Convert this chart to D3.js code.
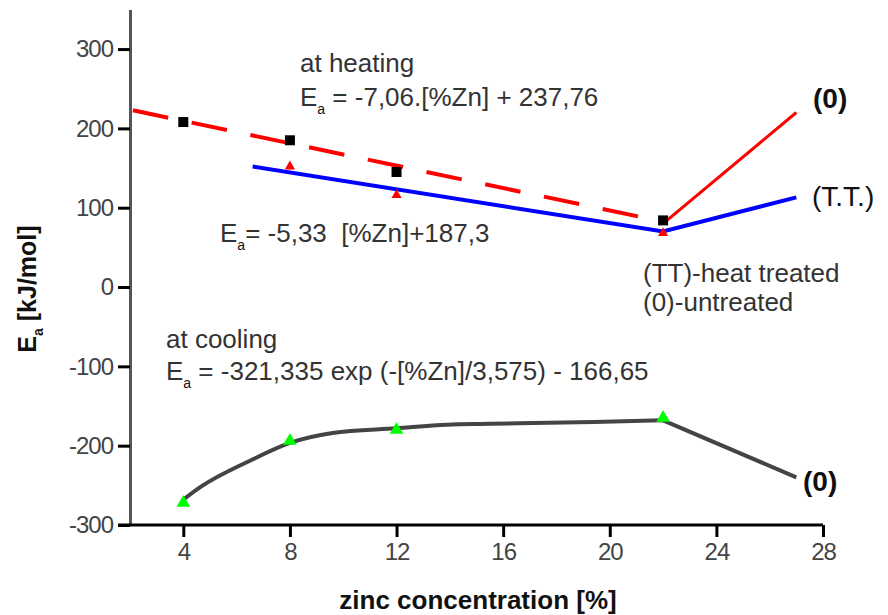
<!DOCTYPE html>
<html>
<head>
<meta charset="utf-8">
<script src="https://cdn.jsdelivr.net/npm/d3@7"></script>
<style>
  html, body { margin: 0; padding: 0; background: #fff; }
  svg { display: block; }
  text { font-family: "Liberation Sans", Arial, sans-serif; }
</style>
</head>
<body>
<svg id="chart" width="888" height="615"></svg>
<script>
// ---- data ----
const xTicks = [4, 8, 12, 16, 20, 24, 28];
const yTicks = [-300, -200, -100, 0, 100, 200, 300];

// heating, untreated (0): measured points (black squares)
const heatSquareX = [4, 8, 12, 22];
const heatSquareY = [208, 185, 145, 84];
// heating, heat treated (TT): measured points (red triangles)
const ttTriX = [8, 12, 22];
const ttTriY = [152, 116, 68];
// cooling: measured points (green triangles)
const coolTriX = [4, 8, 12, 22];
const coolTriY = [-272, -194, -180, -165];

// linear fit at heating (red dashed)
const heatFitX = [2, 22];
const heatFitY = [223.6, 82.4];
// untreated branch above 22 % (red solid)
const untreatedX = [22, 27];
const untreatedY = [80, 220];
// heat treated line (blue)
const ttLineX = [6.6, 22, 27];
const ttLineY = [152, 70, 113];
// cooling curve (gray)
const coolCurveX = [4, 4.65, 6.5, 8, 9.6, 12, 13.9, 15.5, 19.4, 22];
const coolCurveY = [-268, -252, -219, -196.5, -184, -178, -173.5, -172.5, -170, -168];
const coolTailX = [22, 27];
const coolTailY = [-168, -240];

// ---- drawing ----
const svg = d3.select("#chart");
const x = d3.scaleLinear().domain([2, 28]).range([130, 823]);
const y = d3.scaleLinear().domain([-300, 350]).range([525, 9.4]);

const zip = (xs, ys) => xs.map((v, i) => [v, ys[i]]);
const line = d3.line().x(d => x(d[0])).y(d => y(d[1]));
const curve = d3.line().x(d => x(d[0])).y(d => y(d[1])).curve(d3.curveMonotoneX);

// axes
const yAxis = d3.axisLeft(y).tickValues(yTicks).tickFormat(d => String(d))
  .tickSize(12).tickPadding(5).tickSizeOuter(0);
const gy = svg.append("g").attr("transform", `translate(${x(2)},0)`).call(yAxis);
gy.select(".domain").attr("stroke", "#555").attr("stroke-width", 3);
gy.selectAll(".tick line").attr("stroke", "#000").attr("stroke-width", 3);
gy.selectAll(".tick text").attr("font-size", 24).attr("fill", "#444")
  .attr("font-family", "'Liberation Sans', Arial, sans-serif").attr("letter-spacing", -1);

const xAxis = d3.axisBottom(x).tickValues(xTicks).tickFormat(d => String(d))
  .tickSize(12).tickPadding(6).tickSizeOuter(0);
const gx = svg.append("g").attr("transform", `translate(0,${y(-300)})`).call(xAxis);
gx.select(".domain").attr("stroke", "#000").attr("stroke-width", 3)
  .attr("d", `M${x(2) - 12},0H${x(28)}`);
gx.selectAll(".tick line").attr("stroke", "#000").attr("stroke-width", 3);
gx.selectAll(".tick text").attr("font-size", 24).attr("fill", "#444")
  .attr("font-family", "'Liberation Sans', Arial, sans-serif").attr("letter-spacing", -1);

// axis titles
svg.append("text").attr("x", 478).attr("y", 609).attr("text-anchor", "middle")
  .attr("font-size", 26).attr("font-weight", "bold").attr("fill", "#111")
  .text("zinc concentration [%]");

const yt = svg.append("text").attr("transform", "translate(36,289) rotate(-90)")
  .attr("text-anchor", "middle").attr("font-size", 25).attr("font-weight", "bold").attr("fill", "#111");
yt.append("tspan").text("E");
yt.append("tspan").attr("font-size", 14).attr("dy", 7).text("a");
yt.append("tspan").attr("dy", -7).text(" [kJ/mol]");

// lines
svg.append("path").datum(zip(heatFitX, heatFitY)).attr("d", line)
  .attr("fill", "none").attr("stroke", "#ff0000").attr("stroke-width", 4)
  .attr("stroke-dasharray", "36,24").attr("stroke-dashoffset", -3);
svg.append("path").datum(zip(ttLineX, ttLineY)).attr("d", line)
  .attr("fill", "none").attr("stroke", "#0000ff").attr("stroke-width", 4);
svg.append("path").datum(zip(untreatedX, untreatedY)).attr("d", line)
  .attr("fill", "none").attr("stroke", "#ff0000").attr("stroke-width", 3);
svg.append("path").datum(zip(coolCurveX, coolCurveY)).attr("d", curve)
  .attr("fill", "none").attr("stroke", "#444").attr("stroke-width", 4);
svg.append("path").datum(zip(coolTailX, coolTailY)).attr("d", line)
  .attr("fill", "none").attr("stroke", "#444").attr("stroke-width", 4);

// markers
const sq = d3.symbol().type(d3.symbolSquare).size(100);
svg.selectAll(".sq").data(zip(heatSquareX, heatSquareY)).enter().append("path")
  .attr("d", sq).attr("transform", d => `translate(${x(d[0])},${y(d[1])})`).attr("fill", "#000");
const triS = d3.symbol().type(d3.symbolTriangle).size(45);
svg.selectAll(".tt").data(zip(ttTriX, ttTriY)).enter().append("path")
  .attr("d", triS).attr("transform", d => `translate(${x(d[0])},${y(d[1])})`).attr("fill", "#ff0000");
const triG = d3.symbol().type(d3.symbolTriangle).size(80);
svg.selectAll(".cool").data(zip(coolTriX, coolTriY)).enter().append("path")
  .attr("d", triG).attr("transform", d => `translate(${x(d[0])},${y(d[1])})`).attr("fill", "#00ff00");

// annotations: parts are strings, or {subText} for a subscript
function ann(xp, yp, parts, opts = {}) {
  const t = svg.append("text").attr("x", xp).attr("y", yp)
    .attr("font-size", opts.size || 26).attr("fill", opts.fill || "#333")
    .attr("font-weight", opts.weight || "normal");
  let pendingDy = 0;
  parts.forEach(p => {
    if (typeof p === "object") {
      t.append("tspan").attr("font-size", 14).attr("dy", 8).attr("fill", "#111").text(p.subText);
      pendingDy = -8;
    } else {
      const s = t.append("tspan").text(p);
      if (pendingDy) { s.attr("dy", pendingDy); pendingDy = 0; }
    }
  });
  return t;
}
ann(300, 72, ["at heating"]);
ann(300, 106, ["E", {subText: "a"}, " = -7,06.[%Zn] + 237,76"]);
ann(220, 242, ["E", {subText: "a"}, "= -5,33\u00A0 [%Zn]+187,3"]);
ann(643, 282, ["(TT)-heat treated"]);
ann(643, 311, ["(0)-untreated"]);
ann(166, 348, ["at cooling"]);
ann(166, 380, ["E", {subText: "a"}, " = -321,335 exp (-[%Zn]/3,575) - 166,65"]);
ann(813, 108, ["(0)"], {weight: "bold", fill: "#111", size: 28});
ann(812, 206, ["(T.T.)"], {fill: "#111", size: 28});
ann(803, 491, ["(0)"], {weight: "bold", fill: "#111", size: 28});
</script>
</body>
</html>
